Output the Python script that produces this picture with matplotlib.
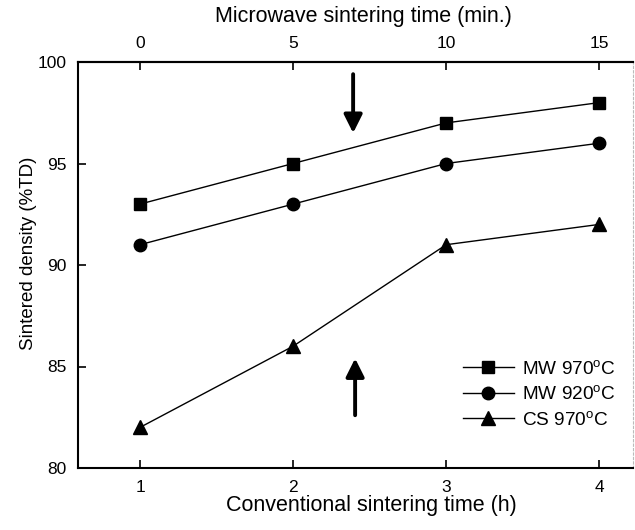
import matplotlib
matplotlib.use("Agg")
import matplotlib.pyplot as plt

plt.rcParams['font.family'] = ['Liberation Sans', 'DejaVu Sans']
plt.rcParams['mathtext.fontset'] = 'custom'
plt.rcParams['mathtext.rm'] = 'Liberation Sans'
plt.rcParams['mathtext.it'] = 'Liberation Sans:italic'

conv_time = [1, 2, 3, 4]
top_ticks = [0, 5, 10, 15]
mw970 = [93, 95, 97, 98]
mw920 = [91, 93, 95, 96]
cs970 = [82, 86, 91, 92]
labels = [r'MW 970$^{\rm o}$C', r'MW 920$^{\rm o}$C', r'CS 970$^{\rm o}$C']

fig = plt.figure(figsize=(6.35, 5.3), dpi=100)
ax = fig.add_axes([78/635, 1-468/530, (633-78)/635, (468-62)/530])

ax.plot(conv_time, mw970, '-s', color='black', lw=1.0, ms=8, label=labels[0])
ax.plot(conv_time, mw920, '-o', color='black', lw=1.0, ms=9, label=labels[1])
ax.plot(conv_time, cs970, '-^', color='black', lw=1.0, ms=10, label=labels[2])

ax.set_xlim(0.595, 4.22)
ax.set_ylim(80, 100)
ax.set_xticks(conv_time)
ax.set_yticks([80, 85, 90, 95, 100])
ax.tick_params(direction='in', length=6, width=1.2, labelsize=12.5, pad=8)
ax.tick_params(axis='x', pad=9)
ax.set_xlabel('Conventional sintering time (h)', fontsize=15.5, va='center')
ax.xaxis.set_label_coords(0.528, -0.092)
ax.set_ylabel('Sintered density (%TD)', fontsize=13.5)
ax.yaxis.set_label_coords(-0.074, 0.53)

for s in ['left', 'bottom', 'top']:
    ax.spines[s].set_linewidth(1.5)
ax.spines['right'].set_linewidth(0.8)
ax.spines['right'].set_color('#bbbbbb')
ax.spines['right'].set_linestyle((0, (2, 2)))

top = ax.secondary_xaxis('top', functions=(lambda x: (x - 1) * 5, lambda t: t / 5 + 1))
top.set_xticks(top_ticks)
top.tick_params(direction='in', length=6, width=1.2, labelsize=12.5, pad=8)
top.set_xlabel('Microwave sintering time (min.)', fontsize=15.5, va='center')
top.xaxis.set_label_coords(0.515, 1.111, transform=ax.transAxes)
top.spines['top'].set_linewidth(1.5)

arrow_kw = dict(arrowstyle='-|>,head_length=1.1,head_width=0.55', color='black', lw=2.8,
                shrinkA=0, shrinkB=0)
ax.annotate('', xy=(2.392, 96.5), xytext=(2.392, 99.4), arrowprops=arrow_kw)
ax.annotate('', xy=(2.405, 85.4), xytext=(2.405, 82.6), arrowprops=arrow_kw)

ax.legend(loc='upper left', bbox_to_anchor=(455/635, 1-352/530), bbox_transform=fig.transFigure,
          frameon=False, fontsize=13.7, handlelength=2.7, handletextpad=0.4, labelspacing=0.4,
          borderaxespad=0)

fig.savefig('out.png', dpi=100)
